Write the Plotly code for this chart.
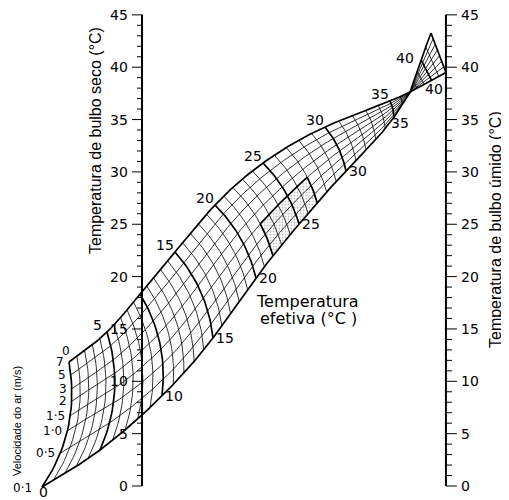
import numpy as np
import plotly.graph_objects as go

# ---------------- data ----------------
# chart units: y = degrees C on the dry-bulb scale; x uses the same scale,
# x = 0 on the dry-bulb scale line
scale_ticks = list(range(0, 46))
scale_major = [0, 5, 10, 15, 20, 25, 30, 35, 40, 45]
wet_scale_x = 29.03

velocities = [7, 5, 3, 2, 1.5, 1.0, 0.5, 0.1]
vel_frac_left = [0.0, 0.096, 0.20, 0.296, 0.408, 0.528, 0.712, 1.0]

et_knots = [0, 5, 10, 15, 20, 25, 30, 35, 37]
top_x = [-6.97, -3.34, -0.19, 3.15, 6.97, 11.56, 17.48, 23.69, 25.60]
top_y = [11.84, 14.71, 18.34, 22.35, 26.84, 30.85, 34.29, 36.77, 37.63]
bot_x = [-9.55, -4.01, 1.91, 6.78, 10.89, 15.00, 19.48, 24.07, 25.60]
bot_y = [-0.10, 3.44, 8.60, 14.14, 19.87, 25.02, 30.09, 35.24, 37.63]

bow_et = [0, 10, 20, 30, 37]
bow_val = [1.24, 0.86, 0.57, 0.29, 0.0]

fan_et_tip = [37, 40, 42]
tip_x = [25.60, 26.65, 27.60]
tip_y = [37.63, 40.69, 43.27]
fan_et_corner = [37, 42]
corner_x = [25.60, 29.03]
corner_y = [37.63, 39.49]

comfort_et = [22, 27]
comfort_vel = [1.5, 0.1]

et_top_labels = [0, 5, 15, 20, 25, 30, 35]
et_bottom_labels = [0, 10, 15, 20, 25, 30, 35]
fan_label = 40

# ---------------- helpers ----------------
S = 10.47   # px per unit
PAD = 8     # page body margin of the html page


def spline(xk, yk, x):
    xk = np.asarray(xk, float)
    yk = np.asarray(yk, float)
    x = np.atleast_1d(np.asarray(x, float))
    n = len(xk)
    if n == 2:
        return np.interp(x, xk, yk)
    h = np.diff(xk)
    A = np.zeros((n, n))
    r = np.zeros(n)
    A[0, 0] = A[-1, -1] = 1
    for i in range(1, n - 1):
        A[i, i - 1] = h[i - 1]
        A[i, i] = 2 * (h[i - 1] + h[i])
        A[i, i + 1] = h[i]
        r[i] = 3 * ((yk[i + 1] - yk[i]) / h[i] - (yk[i] - yk[i - 1]) / h[i - 1])
    c = np.linalg.solve(A, r)
    b = (yk[1:] - yk[:-1]) / h - h * (2 * c[:-1] + c[1:]) / 3
    d = (c[1:] - c[:-1]) / (3 * h)
    i = np.clip(np.searchsorted(xk, x) - 1, 0, n - 2)
    dx = x - xk[i]
    return yk[i] + b[i] * dx + c[i] * dx ** 2 + d[i] * dx ** 3


def vfrac(i, et):
    t = np.clip(np.asarray(et, float) / 12.0, 0, 1)
    s = t * t * (3 - 2 * t)
    return vel_frac_left[i] + (i / 7.0 - vel_frac_left[i]) * s


def main_pt(f, et):
    et = np.atleast_1d(np.asarray(et, float))
    tx, ty = spline(et_knots, top_x, et), spline(et_knots, top_y, et)
    bx, by = spline(et_knots, bot_x, et), spline(et_knots, bot_y, et)
    dx, dy = bx - tx, by - ty
    L = np.hypot(dx, dy)
    L = np.where(L < 1e-9, 1, L)
    nx, ny = -dy / L, dx / L
    b = np.interp(et, bow_et, bow_val) * 4 * f * (1 - f)
    return tx + f * dx + b * nx, ty + f * dy + b * ny


def fan_pt(f, et):
    et = np.atleast_1d(np.asarray(et, float))
    ax, ay = spline(fan_et_tip, tip_x, et), spline(fan_et_tip, tip_y, et)
    cx, cy = np.interp(et, fan_et_corner, corner_x), np.interp(et, fan_et_corner, corner_y)
    return ax + f * (cx - ax), ay + f * (cy - ay)


def vel_curve(i, e0, e1):
    et = np.linspace(e0, e1, int((e1 - e0) * 6) + 2)
    return main_pt(vfrac(i, et), et)


fig = go.Figure()
thin, bold = 0.8, 1.7
col = "black"


def add_lines(segs, width):
    xs, ys = [], []
    for sx, sy in segs:
        xs += list(sx) + [None]
        ys += list(sy) + [None]
    fig.add_trace(go.Scatter(x=xs, y=ys, mode="lines", hoverinfo="skip",
                             line=dict(color=col, width=width), showlegend=False))


# ---- comfort zone (stippled) ----
ia = velocities.index(comfort_vel[0])
ib = velocities.index(comfort_vel[1])
e0, e1 = comfort_et
ux, uy = vel_curve(ia, e0, e1)
lx, ly = vel_curve(ib, e0, e1)
fs = np.linspace(0, 1, 12)
fr = vfrac(ia, e1) + (1 - vfrac(ia, e1)) * fs
rx, ry = main_pt(fr, np.full_like(fr, e1))
fl = vfrac(ia, e0) + (1 - vfrac(ia, e0)) * fs
lfx, lfy = main_pt(fl, np.full_like(fl, e0))
px = np.concatenate([ux, rx, lx[::-1], lfx[::-1]])
py = np.concatenate([uy, ry, ly[::-1], lfy[::-1]])
fig.add_trace(go.Scatter(x=px, y=py, mode="lines", fill="toself",
                         fillcolor="rgba(0,0,0,0)",
                         fillpattern=dict(shape=".", fgcolor="#888", bgcolor="white",
                                          size=3, solidity=0.3),
                         line=dict(width=0), hoverinfo="skip", showlegend=False))

# ---- velocity curves ----
thin_segs, bold_segs = [], []
for i in range(len(velocities)):
    mx, my = vel_curve(i, 0, 37)
    et_f = np.linspace(37, 42, 40)
    fx, fy = fan_pt(i / 7.0, et_f)
    seg = (np.concatenate([mx, fx]), np.concatenate([my, fy]))
    (bold_segs if i in (0, len(velocities) - 1) else thin_segs).append(seg)

# ---- effective temperature lines ----
ff = np.linspace(0, 1, 30)
for et in range(0, 37):
    sx, sy = main_pt(ff, np.full_like(ff, et))
    (bold_segs if et % 5 == 0 else thin_segs).append((sx, sy))
for et in range(38, 43):
    sx, sy = fan_pt(ff, np.full_like(ff, et))
    (bold_segs if et in (40, 42) else thin_segs).append((sx, sy))

# comfort-zone borders
bold_segs.append((ux, uy))
bold_segs.append((rx, ry))
bold_segs.append((lfx, lfy))

add_lines(thin_segs, thin)
add_lines(bold_segs, bold)

# ---- scales ----
axis_segs = [([0, 0], [0, 45]), ([wet_scale_x, wet_scale_x], [0, 45])]
tick_segs = []
for t in scale_ticks:
    major = t in scale_major
    ll = (10 if major else 5) / S
    rl = (11 if major else 6) / S
    tick_segs.append(([-ll, 0], [t, t]))
    tick_segs.append(([wet_scale_x, wet_scale_x + rl], [t, t]))
add_lines(axis_segs, 2.0)
add_lines(tick_segs, 1.0)

num_font = dict(family="DejaVu Sans", size=14, color=col)
ann = []
for t in scale_major:
    ann.append(dict(x=-12 / S, y=t, text=str(t), xanchor="right", yanchor="middle",
                    showarrow=False, font=num_font))
    ann.append(dict(x=wet_scale_x + 13 / S, y=t, text=str(t), xanchor="left",
                    yanchor="middle", showarrow=False, font=num_font))

# ET labels on the top edge
for et in et_top_labels:
    x, y = main_pt(0.0, et)
    ann.append(dict(x=x[0], y=y[0], text=str(et), showarrow=False,
                    font=dict(family="DejaVu Sans", size=12 if et == 0 else 14, color=col),
                    xanchor="center", yanchor="middle",
                    xshift=-3 if et == 0 else -10, yshift=11 if et == 0 else 7))
# ET labels on the bottom edge
for et in et_bottom_labels:
    x, y = main_pt(1.0, et)
    if et == 0:
        xs_, ys_ = 1, -5
    elif et == 35:
        xs_, ys_ = 6, -6
    else:
        xs_, ys_ = 12, 0
    ann.append(dict(x=x[0], y=y[0], text=str(et), showarrow=False, font=num_font,
                    xanchor="center", yanchor="middle", xshift=xs_, yshift=ys_))
# fan labels
x, y = fan_pt(0.0, fan_label)
ann.append(dict(x=x[0], y=y[0], text=str(fan_label), showarrow=False, font=num_font,
                xshift=-16, yshift=2))
x, y = fan_pt(1.0, fan_label)
ann.append(dict(x=x[0], y=y[0], text=str(fan_label), showarrow=False, font=num_font,
                xshift=2, yshift=-9))

# velocity labels along ET = 0 line
for i, v in enumerate(velocities):
    x, y = main_pt(vfrac(i, 0.0), 0.0)
    txt = (f"{v:.1f}" if v < 2 else f"{v:g}").replace(".", "·")
    ann.append(dict(x=x[0], y=y[0], text=txt, showarrow=False,
                    font=dict(family="DejaVu Sans", size=12, color=col),
                    xanchor="right", yanchor="middle",
                    xshift=-8 if i == len(velocities) - 1 else -3,
                    yshift=-1 if i == len(velocities) - 1 else 0))

title_font = dict(family="Liberation Sans", size=16, color=col)
ann.append(dict(x=(95 - 142) / S, y=(486 - 141) / S, text="Temperatura de bulbo seco (°C)",
                textangle=-90, showarrow=False, font=title_font))
ann.append(dict(x=(495 - 142) / S, y=(486 - 230) / S, text="Temperatura de bulbo úmido (°C)",
                textangle=-90, showarrow=False, font=title_font))
ann.append(dict(x=(17 - 142) / S, y=(486 - 421) / S, text="Velocidade do ar (m/s)",
                textangle=-90, showarrow=False,
                font=dict(family="Liberation Sans", size=11, color=col)))
et_font = dict(family="DejaVu Sans", size=16, color=col)
ann.append(dict(x=(307 - 142) / S, y=(486 - 301) / S, text="Temperatura",
                showarrow=False, font=et_font))
ann.append(dict(x=(308 - 142) / S, y=(486 - 318) / S, text="efetiva (°C )",
                showarrow=False, font=et_font))

fig.update_layout(
    width=509 - PAD, height=500 - PAD, margin=dict(l=0, r=0, t=0, b=0),
    paper_bgcolor="white", plot_bgcolor="white",
    xaxis=dict(visible=False, range=[(PAD - 142) / S, (509 - 142) / S], fixedrange=True),
    yaxis=dict(visible=False, range=[(486 - 500) / S, (486 - PAD) / S], fixedrange=True),
    annotations=ann, showlegend=False,
)
fig.write_html("out.html")
